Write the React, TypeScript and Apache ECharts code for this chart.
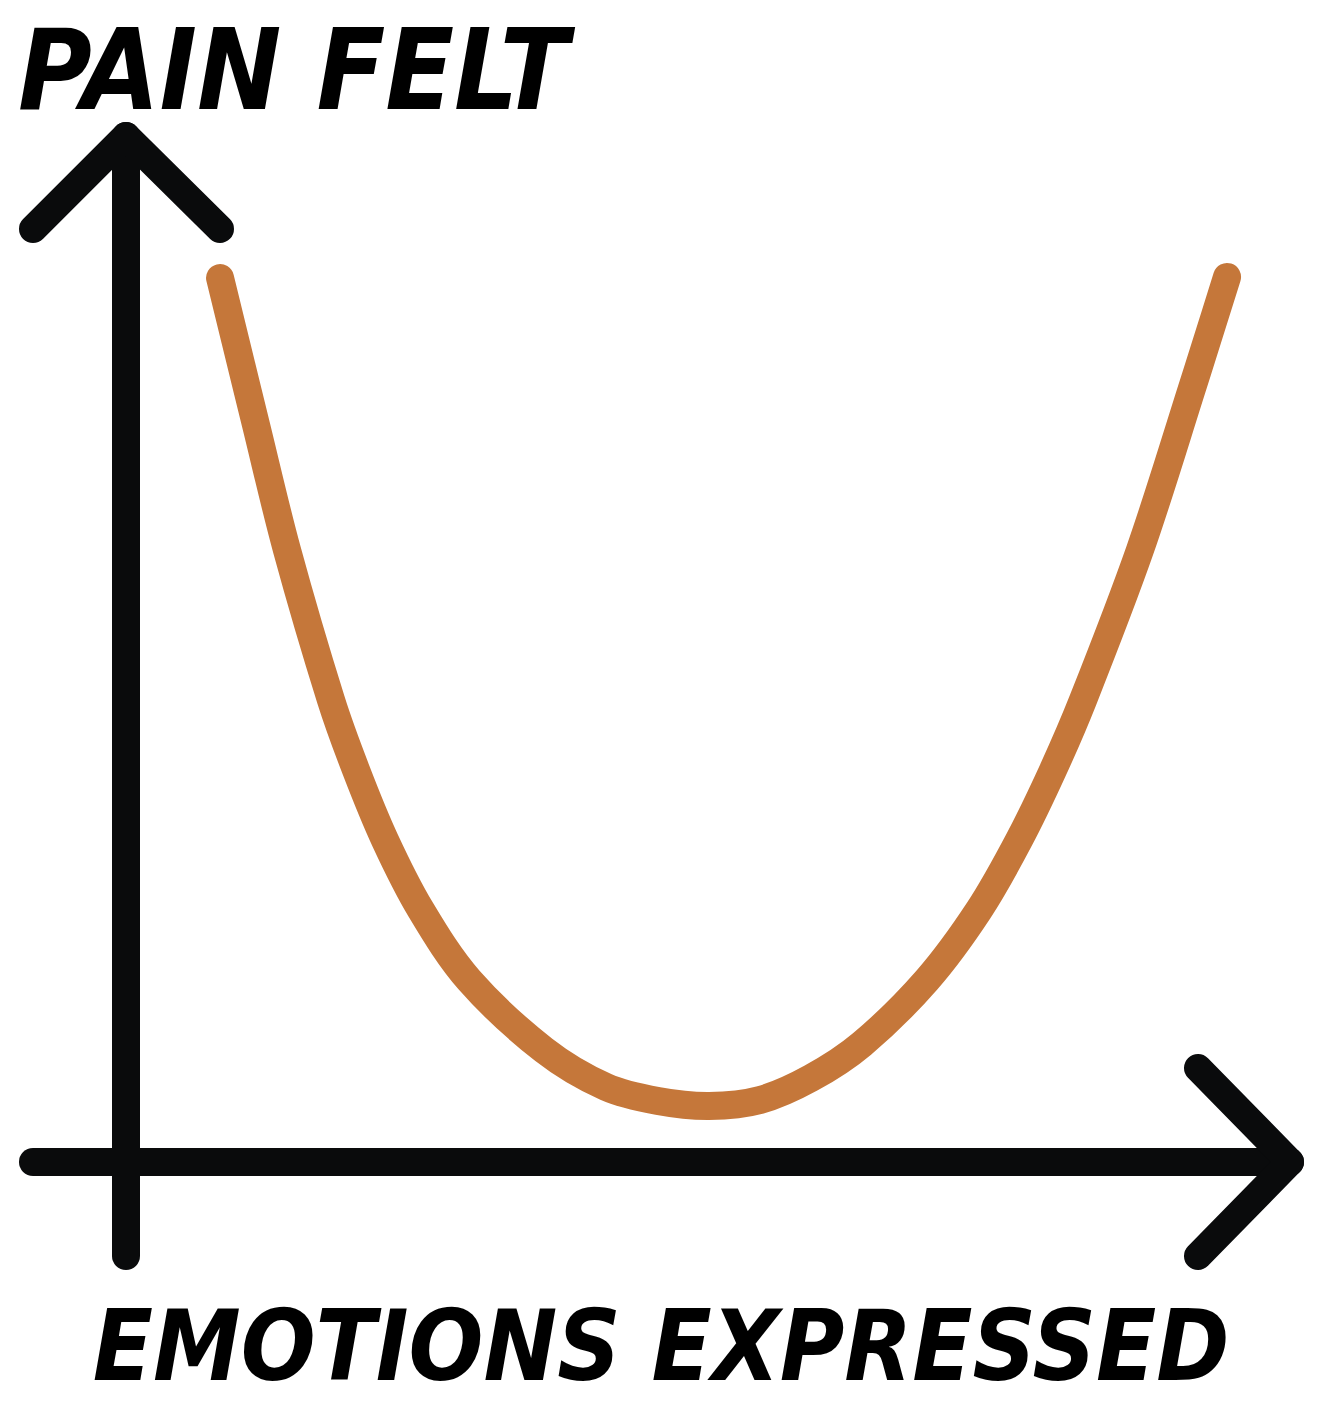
import React, { useEffect, useRef } from "react";
import * as echarts from "echarts";

// Curve (x: emotions expressed, y: pain felt, 0–100 scale)
const emotionsExpressed = [8.08, 11.17, 13.83, 17.61, 19.76, 22.25, 25.34, 29.47, 35.91, 41.24, 45.7, 50.09, 54.47, 58.85, 63.23, 68.81, 73.28, 76.72, 79.64, 82.22, 87.11, 91.67, 94.59];
const painFelt = [86.16, 71.83, 59.65, 45.03, 38.21, 31.38, 24.56, 17.74, 10.92, 7.31, 5.95, 5.46, 6.04, 8.18, 11.5, 17.74, 24.56, 31.38, 38.21, 45.03, 59.65, 75.73, 86.26];
const yTitle = "PAIN FELT";
const xTitle = "EMOTIONS EXPRESSED";

const INK = "#0a0b0c";
const ORANGE = "#c5773a";
const FONT = "'DejaVu Sans Condensed', 'DejaVu Sans', sans-serif";

function smoothPath(pts: number[][]): string {
  const n = pts.length;
  const tan: number[][] = pts.map((p, i) => {
    const a = pts[Math.max(0, i - 1)];
    const b = pts[Math.min(n - 1, i + 1)];
    const dx = b[0] - a[0];
    const dy = b[1] - a[1];
    const l = Math.hypot(dx, dy) || 1;
    return [dx / l, dy / l];
  });
  let d = `M${pts[0][0]},${pts[0][1]}`;
  for (let i = 0; i < n - 1; i++) {
    const p1 = pts[i];
    const p2 = pts[i + 1];
    const len = Math.hypot(p2[0] - p1[0], p2[1] - p1[1]) / 3;
    const c1x = p1[0] + tan[i][0] * len;
    const c1y = p1[1] + tan[i][1] * len;
    const c2x = p2[0] - tan[i + 1][0] * len;
    const c2y = p2[1] - tan[i + 1][1] * len;
    d += ` C${c1x},${c1y} ${c2x},${c2y} ${p2[0]},${p2[1]}`;
  }
  return d;
}

export default function App() {
  const ref = useRef<HTMLDivElement>(null);
  useEffect(() => {
    document.body.style.margin = "0";
    const chart = echarts.init(ref.current!, null, { renderer: "svg" });
    const axisStroke = { stroke: INK, lineWidth: 28, lineCap: "round", lineJoin: "round", fill: null };
    chart.setOption({
      animation: false,
      backgroundColor: "#ffffff",
      grid: { left: 126, right: 32, top: 136, bottom: 244 },
      xAxis: {
        type: "value", min: 0, max: 100,
        axisLine: { show: false }, axisTick: { show: false }, axisLabel: { show: false }, splitLine: { show: false },
      },
      yAxis: {
        type: "value", min: 0, max: 100,
        axisLine: { show: false }, axisTick: { show: false }, axisLabel: { show: false }, splitLine: { show: false },
      },
      graphic: [
        { type: "polyline", z: 10, shape: { points: [[126, 1256], [126, 136]] }, style: axisStroke },
        { type: "polyline", z: 10, shape: { points: [[33, 229], [126, 136], [220, 229]] }, style: axisStroke },
        { type: "polyline", z: 10, shape: { points: [[33, 1162], [1290, 1162]] }, style: axisStroke },
        { type: "polyline", z: 10, shape: { points: [[1198, 1068], [1290, 1162], [1198, 1256]] }, style: axisStroke },
        {
          type: "text", left: 18, top: 14, z: 10,
          style: { text: yTitle, fill: "#000", font: `italic bold 112px ${FONT}`, lineHeight: 112 },
        },
        {
          type: "text", left: "center", top: 1297, z: 10,
          style: { text: xTitle, fill: "#000", font: `italic bold 98px ${FONT}`, lineHeight: 84 },
        },
      ],
      series: [
        {
          type: "custom",
          name: "Pain felt",
          coordinateSystem: "cartesian2d",
          clip: false,
          data: [[emotionsExpressed[0], painFelt[0]]],
          renderItem: (_params: any, api: any) => {
            const pts = emotionsExpressed.map((x, i) => api.coord([x, painFelt[i]]));
            return {
              type: "path",
              shape: { pathData: smoothPath(pts) },
              style: { fill: "none", stroke: ORANGE, lineWidth: 28, lineCap: "round", lineJoin: "round" },
            };
          },
          z: 2,
        },
      ],
    });
    return () => chart.dispose();
  }, []);
  return <div ref={ref} style={{ position: "absolute", left: 0, top: 0, width: 1322, height: 1406 }} />;
}
